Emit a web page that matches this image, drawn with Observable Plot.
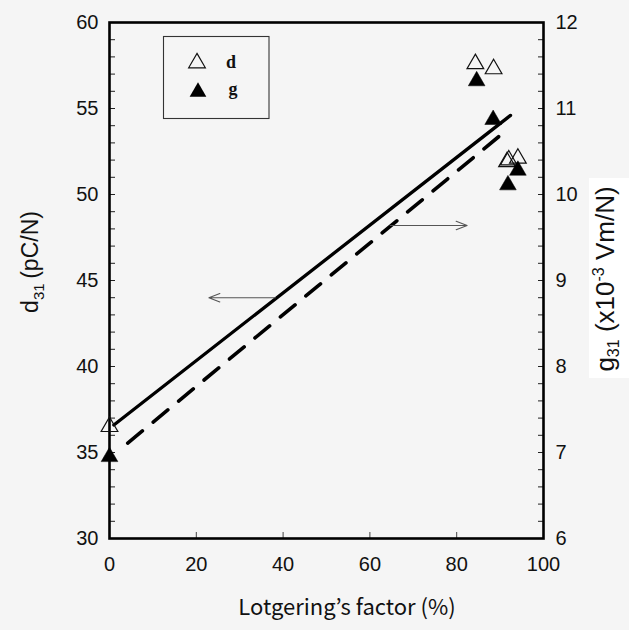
<!DOCTYPE html>
<html><head><meta charset="utf-8">
<script src="https://cdn.jsdelivr.net/npm/d3@7"></script>
<script src="https://cdn.jsdelivr.net/npm/@observablehq/plot@0.6"></script>
<style>
html,body{margin:0;padding:0;background:#f5f5f5;}
#wrap{position:relative;width:629px;height:630px;}
svg{display:block;}
</style></head><body><div id="wrap"></div>
<script>
// data
const lotgeringD = [0, 84.3, 88.5, 91.6, 92.0, 94.1];
const d31 = [36.5, 57.6, 57.3, 51.9, 52.0, 52.1];
const lotgeringG = [0, 84.6, 88.4, 91.8, 94.1];
const g31 = [6.95, 11.32, 10.87, 10.11, 10.28];
// fitted lines (endpoints)
const fitDx = [1, 92.4], fitDy = [36.6, 54.6];
const fitGx = [4.2, 90.1], fitGy = [7.11, 10.69];
// arrows pointing to the axes (left: d31, right: g31)
const arrowX1 = [38.2, 64.7], arrowX2 = [22.9, 82.4], arrowY = [44.0, 48.2];
// ticks
const xTicks = [0, 20, 40, 60, 80, 100];
const leftTicks = [30, 35, 40, 45, 50, 55, 60];
const rightTicks = [6, 7, 8, 9, 10, 11, 12];
const minorLeft = [30,31,32,33,34,35,36,37,38,39,40,41,42,43,44,45,46,47,48,49,50,51,52,53,54,55,56,57,58,59,60];

// right axis (g31) shares the frame with the left (d31): 6..12 <-> 30..60
const gToLeft = g => 30 + (g - 6) * 5;
const leftToG = v => 6 + (v - 30) / 5;

const dData = lotgeringD.map((x, i) => ({x, y: d31[i]}));
const gData = lotgeringG.map((x, i) => ({x, y: gToLeft(g31[i])}));
const fitD = fitDx.map((x, i) => ({x, y: fitDy[i]}));
const fitG = fitGx.map((x, i) => ({x, y: gToLeft(fitGy[i])}));
const arrows = arrowX1.map((x1, i) => ({x1, x2: arrowX2[i], y: arrowY[i]}));

const font = "'Liberation Sans', Arial, sans-serif";

const plot = Plot.plot({
  width: 629, height: 630,
  marginLeft: 109, marginRight: 86, marginTop: 22, marginBottom: 92,
  style: {background: "transparent", fontFamily: font, fontSize: "20px", color: "#111", overflow: "visible"},
  x: {domain: [0, 100], label: null},
  y: {domain: [30, 60], label: null},
  marks: [
    Plot.axisX({ticks: xTicks, tickSize: -6, tickFormat: () => "", label: null, stroke: "#444"}),
    Plot.axisX({ticks: xTicks, tickSize: 0, tickPadding: 18, label: null, fontSize: 20}),
    Plot.axisY({ticks: minorLeft, tickSize: -6, tickFormat: () => "", label: null, stroke: "#222"}),
    Plot.axisY({ticks: leftTicks, tickSize: 0, tickPadding: 11, label: null, fontSize: 20}),
    Plot.axisY({anchor: "right", ticks: minorLeft, tickSize: -6, tickFormat: () => "", label: null, stroke: "#222"}),
    Plot.axisY({anchor: "right", ticks: rightTicks.map(gToLeft), tickSize: 0, tickPadding: 12, tickFormat: v => leftToG(v), label: null, fontSize: 20}),
    Plot.frame({stroke: "#000", strokeWidth: 2.6}),
    Plot.line(fitD, {x: "x", y: "y", stroke: "#000", strokeWidth: 3.3}),
    Plot.line(fitG, {x: "x", y: "y", stroke: "#000", strokeWidth: 3.6, strokeDasharray: "19,14"}),
    Plot.arrow(arrows, {x1: "x1", x2: "x2", y1: "y", y2: "y", stroke: "#555", strokeWidth: 1.1, headLength: 16, headAngle: 42}),
    Plot.dot(dData, {x: "x", y: "y", symbol: "triangle", r: 6.2, stroke: "#111", fill: "none", strokeWidth: 1.2}),
    Plot.dot(gData, {x: "x", y: "y", symbol: "triangle", r: 6.2, fill: "#000", stroke: "#000", strokeWidth: 0.5})
  ]
});
document.getElementById("wrap").appendChild(plot);

const svg = d3.select(plot);
// legend
const lg = svg.append("g");
lg.append("rect").attr("x", 163.5).attr("y", 36.5).attr("width", 105.5).attr("height", 82)
  .attr("fill", "none").attr("stroke", "#333").attr("stroke-width", 1.1);
const tri = d3.symbol(d3.symbolTriangle, Math.PI * 6.2 * 6.2);
lg.append("path").attr("d", tri()).attr("transform", "translate(197,63)")
  .attr("fill", "none").attr("stroke", "#111").attr("stroke-width", 1.2);
lg.append("path").attr("d", tri()).attr("transform", "translate(198,92)").attr("fill", "#000");
lg.append("text").attr("x", 231).attr("y", 68).text("d")
  .attr("font-family", "'Liberation Serif', serif").attr("font-weight", "bold").attr("font-size", 18);
lg.append("text").attr("x", 233).attr("y", 95).text("g")
  .attr("font-family", "'Liberation Serif', serif").attr("font-weight", "bold").attr("font-size", 18);

// left axis title
const lt = svg.append("text").attr("transform", "translate(38,262) rotate(-90)")
  .attr("text-anchor", "middle").attr("font-family", font).attr("font-size", 23).attr("fill", "#111");
lt.append("tspan").text("d");
lt.append("tspan").attr("font-size", 15).attr("dy", 6).text("31");
lt.append("tspan").attr("dy", -6).text("\u2009(pC/N)");

// right axis title on white patch
svg.append("rect").attr("x", 589).attr("y", 178).attr("width", 40).attr("height", 200).attr("fill", "#fff");
const rt = svg.append("text").attr("transform", "translate(614,279) rotate(-90)")
  .attr("text-anchor", "middle").attr("font-family", font).attr("font-size", 26).attr("fill", "#111");
rt.append("tspan").text("g");
rt.append("tspan").attr("font-size", 16).attr("dy", 5).text("31");
rt.append("tspan").attr("dy", -5).text(" (x10");
rt.append("tspan").attr("font-size", 16).attr("dy", -10).text("-3");
rt.append("tspan").attr("dy", 10).text(" Vm/N)");

// x axis title
svg.append("text").attr("x", 347).attr("y", 615).attr("text-anchor", "middle")
  .attr("font-family", "'Noto Sans CJK JP', 'Noto Sans', sans-serif").attr("font-size", 22).attr("fill", "#111")
  .text("Lotgering\u2019s factor (%)");
</script></body></html>
